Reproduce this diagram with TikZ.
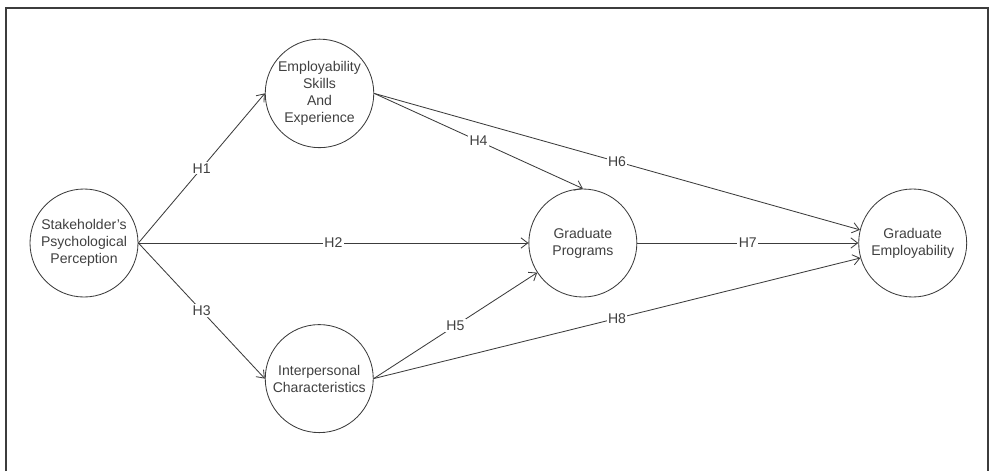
\documentclass[tikz,border=0pt]{standalone}
\usepackage{fontspec}
\setmainfont{Liberation Sans}
\usetikzlibrary{positioning,arrows.meta}
\definecolor{linegray}{HTML}{3C3C3C}
\definecolor{textgray}{HTML}{404040}
\tikzset{
  construct/.style={circle, draw=linegray, line width=0.6pt, minimum size=2.7cm, inner sep=1pt, align=center, text=textgray, font=\fontsize{10}{12}\selectfont},
  hyp/.style={-{Straight Barb[length=1.7mm,width=2.6mm]}, draw=linegray, line width=0.6pt},
  hlabel/.style={midway, fill=white, inner sep=1pt, text=textgray, font=\fontsize{10}{12}\selectfont},
}

\begin{document}
\begin{tikzpicture}
  \useasboundingbox (0,0) rectangle (24.775,-11.775);
  \draw[linegray, line width=1.4pt] (0.15,-11.775) -- (0.15,-0.2) -- (24.7,-0.2) -- (24.7,-11.775);

  \node[construct] (stake) at (2.1,-6.075) {Stakeholder's\\Psychological\\Perception};
  \node[construct] (skills) [right=3.16cm of stake, yshift=3.74cm] {Employability\\Skills\\And\\Experience};
  \node[construct] (inter) [right=3.16cm of stake, yshift=-3.39cm] {Interpersonal\\Characteristics};
  \node[construct] (programs) [right=9.75cm of stake] {Graduate\\Programs};
  \node[construct] (employ) [right=5.525cm of programs] {Graduate\\Employability};

  \draw[hyp] (stake.east) -- (skills.west) node[hlabel] {H1};
  \draw[hyp] (stake.east) -- (programs.west) node[hlabel] {H2};
  \draw[hyp] (stake.east) -- (inter.west) node[hlabel] {H3};
  \draw[hyp] (skills.east) -- (programs.north) node[hlabel] {H4};
  \draw[hyp] (inter.east) -- (programs.213) node[hlabel] {H5};
  \draw[hyp] (skills.east) -- (employ.166) node[hlabel] {H6};
  \draw[hyp] (programs.east) -- (employ.west) node[hlabel] {H7};
  \draw[hyp] (inter.east) -- (employ.196) node[hlabel] {H8};

\end{tikzpicture}
\end{document}
